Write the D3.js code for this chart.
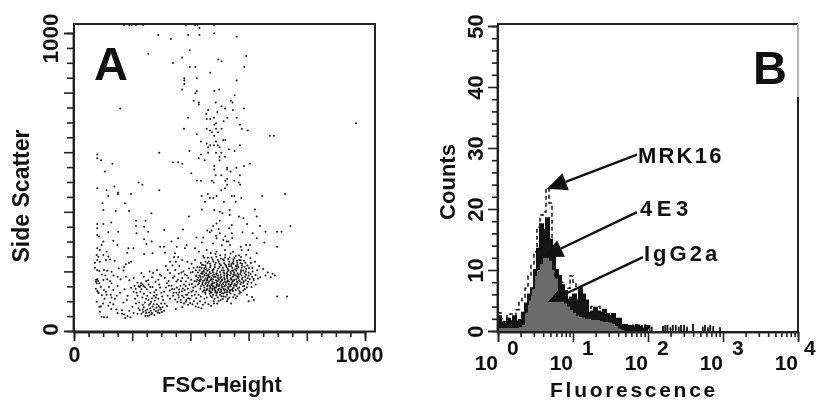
<!DOCTYPE html>
<html>
<head>
<meta charset="utf-8">
<script src="https://cdn.jsdelivr.net/npm/d3@7"></script>
<style>
  html, body { margin: 0; background: #fff; }
  svg { display: block; filter: blur(0.35px); }
  text { font-family: "Liberation Sans", Arial, sans-serif; font-weight: bold; fill: #111; }
</style>
</head>
<body>
<div id="chart"></div>
<script>
// panel A as [FSC-Height, Side Scatter]
const upperPoints = [
[172,1027],[190,1027],[198,1027],[213,1027],[238,1027],[385,1027],[416,1027],[424,1027],[431,1018],[481,1027],[482,999],[289,993],[333,980],[392,993],[431,993],[559,987],[255,930],[398,942],[372,918],[496,911],[507,905],[592,923],[340,899],[398,886],[417,886],[585,886],[468,867],[379,848],[379,841],[422,848],[559,841],[379,829],[372,810],[482,805],[499,810],[422,805],[417,798],[552,791],[411,773],[429,767],[429,760],[487,767],[539,773],[545,767],[159,747],[507,754],[519,747],[461,742],[546,742],[584,747],[493,735],[455,728],[481,716],[392,716],[527,716],[559,716],[456,711],[468,711],[488,697],[514,704],[482,692],[570,692],[456,679],[378,679],[467,673],[488,679],[507,679],[577,679],[597,673],[474,667],[495,667],[422,660],[482,655],[673,655],[687,655],[969,697],[520,641],[513,641],[436,636],[456,629],[488,636],[468,623],[461,617],[481,623],[494,623],[570,623],[500,617],[397,604],[532,610],[552,604],[461,598],[488,598],[506,598],[293,598],[80,592],[80,580],[93,573],[436,592],[519,585],[429,580],[500,585],[449,573],[500,573],[340,566],[358,566],[372,561],[132,561],[482,554],[605,561],[584,554],[526,548],[558,548],[482,542],[526,542],[538,535],[106,535],[487,523],[506,523],[403,529],[570,523],[422,504],[436,504],[474,504],[480,498],[526,510],[520,504],[551,504],[566,498],[571,491],[222,498],[235,491],[526,491],[519,479],[139,485],[80,479],[112,472],[293,472],[506,472],[151,465],[151,460],[196,460],[118,453],[439,453],[460,460],[490,453],[542,453],[551,453],[575,446],[647,453],[725,460],[467,446],[479,446]
];
const midUpperPoints = [
[98,429],[175,429],[450,434],[515,434],[556,434],[101,406],[144,403],[189,403],[266,395],[395,384],[439,408],[482,406],[501,400],[535,406],[510,395],[535,389],[567,384],[582,378],[622,408],[628,384],[80,359],[80,345],[101,359],[128,364],[213,370],[246,370],[213,352],[241,350],[501,370],[490,361],[478,352],[542,356],[595,359],[639,352],[744,352],[118,331],[152,333],[80,322],[86,317],[215,328],[255,333],[310,339],[375,341],[458,337],[473,337],[467,331],[501,328],[542,328],[579,331],[614,328],[658,333],[698,333],[713,333],[101,300],[241,308],[335,300],[358,311],[421,314],[444,314],[490,311],[513,305],[525,300],[628,311],[135,303],[267,300],[95,289],[149,289],[249,292],[296,283],[309,283],[387,289],[439,297],[478,294],[536,289],[530,300],[654,297],[605,289],[591,289],[573,283],[698,283],[80,278],[187,278],[204,278],[353,283],[381,278],[416,278],[456,272],[89,272],[112,266],[183,263],[78,255],[118,250],[241,258],[270,261],[312,263],[347,261],[429,266],[490,266],[519,272],[547,266],[576,272],[599,272],[628,261],[508,288],[544,312],[520,318],[497,342],[533,345],[488,320]
];
const leftPoints = [
[80,238],[72,229],[89,232],[84,249],[101,255],[110,238],[124,240],[80,205],[87,201],[103,205],[114,202],[129,199],[75,166],[80,174],[87,160],[101,171],[114,174],[124,168],[129,160],[80,134],[84,129],[103,138],[110,132],[126,122],[150,151],[78,98],[87,81],[89,65],[95,48],[114,46],[103,46],[129,112],[141,108],[124,96],[118,85],[135,90],[128,74],[150,60],[165,58],[147,118],[165,70],[172,55],[184,50],[194,46],[176,44],[190,68],[205,60],[201,81],[218,58],[226,70],[232,58],[213,92],[222,76],[238,64],[245,50],[259,52],[266,56],[253,50],[178,224],[172,215],[189,228],[170,203],[196,232],[178,182],[190,170],[205,178],[218,163],[222,150],[196,145],[174,140],[184,118],[150,182],[160,174],[92,148],[75,142],[96,120],[105,108],[92,82],[140,236],[154,210],[135,138],[120,148],[76,172],[83,168],[78,160],[84,128],[96,190],[108,186],[72,212],[136,186],[158,128],[170,96],[182,104],[146,72],[112,122],[100,92]
];
const lowerLeftPoints = [
[240,125],[228,132],[232,140],[218,118],[215,128],[235,112],[248,108],[252,118],[244,96],[258,88],[265,98],[270,82],[262,76],[252,72],[240,80],[246,68],[236,88],[275,72],[282,66],[290,70],[298,72],[288,62],[294,60],[302,64],[310,68],[296,78],[285,90],[278,102],[268,110],[275,118],[290,108],[300,92],[312,92],[320,84],[306,104],[262,128],[250,140],[270,148],[282,138],[296,146],[310,132],[322,118],[300,128],[284,122],[262,148],[255,170],[268,180],[280,165],[290,172],[300,185],[312,178],[325,168],[272,195],[285,205],[295,190],[260,200],[248,168],[240,182],[232,195],[226,148],[208,152],[205,132],[258,62],[268,60],[248,60],[236,72],[224,96],[210,108],[276,54],[264,68],[231,160],[236,156],[229,153],[239,150],[244,147],[212,142],[256,104],[262,92],[274,90],[283,78],[291,84],[304,80],[281,112],[316,146],[329,136],[303,116],[293,156],[276,130],[256,156]
];
const middlePoints = [
[335,152],[345,140],[352,128],[340,118],[330,108],[348,106],[360,112],[368,96],[378,92],[386,104],[392,88],[372,118],[362,130],[380,138],[394,128],[405,118],[398,108],[412,100],[424,92],[420,110],[366,152],[352,166],[340,178],[330,195],[348,205],[360,192],[372,178],[384,166],[396,156],[410,146],[420,132],[428,122],[388,186],[376,200],[362,218],[350,232],[338,220],[396,210],[408,198],[420,186],[414,168],[426,156],[434,142],[442,132],[436,116],[448,108],[428,80],[372,80],[350,74],[392,110],[404,132],[384,150],[368,168],[322,205],[330,232],[316,218],[344,248],[358,248],[372,238],[390,232],[404,226],[416,238],[424,214],[432,204],[440,222],[452,232],[448,246],
[353,146],[361,139],[374,143],[389,122],[377,112],[367,104],[355,97],[384,98],[399,94],[415,122],[409,136],[391,142],[378,156],[403,172],[393,178],[381,190],[369,196],[357,172],[345,184],[405,158],[417,150],[431,170],[411,212],[401,196],[419,204],[385,122],[371,133],[343,128],[337,141],[326,152],[319,160],[358,122],[433,100],[443,88],[418,82],[407,90],[451,96],[462,90],[471,84],[438,76],[481,92]
];
const cloudPoints = [
[470,262],[486,258],[502,254],[520,256],[538,260],[556,252],[574,248],[592,256],[606,244],[584,236],[568,238],[548,240],[530,242],[512,240],[494,238],[476,240],[460,246],[444,252],
[436,228],[452,220],[468,226],[484,222],[500,226],[516,228],[532,224],[548,226],[562,222],[578,226],[596,220],[608,228],[622,232],[636,218],[592,208],[576,212],[560,210],[544,212],[528,208],[512,212],[496,210],[480,208],[464,206],[448,210],[432,214],
[426,196],[440,198],[454,194],[466,198],[478,196],[490,194],[502,198],[514,196],[526,194],[538,198],[550,196],[562,194],[574,198],[586,194],[600,196],[614,200],[630,204],[650,208],[666,196],[682,192],
[420,184],[432,186],[444,182],[456,186],[466,182],[476,186],[486,182],[496,186],[506,182],[516,186],[526,182],[536,186],[546,182],[556,186],[566,182],[576,186],[588,182],[600,186],[612,182],[624,188],[640,180],[658,186],[676,180],[690,186],
[424,172],[436,174],[448,170],[458,174],[468,170],[478,174],[488,170],[498,174],[508,170],[518,174],[528,170],[538,174],[548,170],[558,174],[568,170],[578,174],[590,170],[604,174],[618,170],[632,176],
[430,160],[442,162],[452,158],[462,162],[472,158],[482,162],[492,158],[502,162],[512,158],[522,162],[532,158],[542,162],[552,158],[562,162],[572,158],[582,162],[596,158],[610,162],[624,156],
[436,150],[448,146],[458,150],[468,146],[478,150],[488,146],[498,150],[508,146],[518,150],[528,146],[538,150],[548,146],[558,150],[568,146],[580,150],[594,146],[610,148],
[446,136],[456,138],[466,134],[476,138],[486,134],[496,138],[506,134],[516,138],[526,134],[536,138],[546,134],[556,138],[568,134],[582,136],
[452,124],[466,126],[478,122],[490,126],[502,122],[514,126],[526,122],[538,126],[552,122],[568,126],[456,112],[474,114],[494,112],[514,116],[534,112],[556,110],[480,100],[504,104],[526,100],[540,92],[594,122],[612,114],[618,104],[698,116],[732,116],[492,92],[600,100],
[462,190],[472,178],[482,190],[494,178],[504,190],[516,178],[528,190],[540,178],[552,190],[564,178],[452,176],[464,166],[476,166],[490,164],[504,166],[518,166],[532,166],[546,166],[560,166],[460,154],[474,154],[490,154],[506,154],[522,154],[538,154],[554,154],[466,142],[482,142],[498,142],[514,142],[530,142],[546,142],[470,130],[486,130],[502,130],[518,130],[534,130],
[520,222],[534,232],[548,234],[560,236],[572,228],[586,216],[574,204],[590,200],[544,202],[558,202],[528,200],[508,204],[492,202],[476,202],[458,202],[442,192],[446,204],[524,214],[540,218],[556,218],[500,216],[484,214],[468,214],[452,214]
];
const cloudCorePoints = [
[437,193],[449,187],[459,179],[443,169],[453,163],[467,151],[475,143],[485,137],[493,131],[509,127],[521,139],[533,149],[541,157],[551,171],[561,183],[571,191],[581,203],[565,215],[553,207],[539,193],[527,177],[513,161],[499,155],[483,147],[471,173],[461,187],[447,199],[435,181],[441,157],[457,141],[473,129],[489,119],[507,117],[525,129],[543,139],[559,155],[569,167],[579,179],[591,189],[577,219],[561,229],[541,225],[523,219],[505,221],[487,229],[469,219],[455,207],[439,211],[517,193],[503,179],[489,191],[477,159],[465,135],[451,129],[531,205],[547,189],[563,143],[575,163],[585,151],[597,177],[607,191],[617,175],[515,237],[497,233],[479,233],[463,233],[535,247],[551,245],[567,253],[527,165],[511,149],[495,169],[481,181],[469,193],[549,153],[537,135],[521,115],[505,139],[491,151],[457,169],[445,153],[433,167],[427,179],[421,166],[445,221],[459,227],[473,247],[489,249],[505,243],[519,247],[533,217],[545,229],[559,217],[573,237],[589,229],[601,211],[613,211],[599,165],[587,141],[573,129],[561,117],[547,113],[529,107],[511,107],[497,101],[483,108],[469,118],[541,172],[525,186],[509,173],[493,185],[477,205],[463,181],[449,137],[515,203],[531,157],[547,203],[565,189],[583,167]
];

// panel B
const fluorExp = [0,.04,.08,.12,.16,.2,.24,.28,.32,.36,.4,.44,.48,.52,.56,.6,.64,.68,.72,.76,.8,.84,.88,.92,.96,1,1.04,1.08,1.12,1.16,1.2,1.24,1.28,1.32,1.36,1.4,1.44,1.48,1.52,1.56,1.6,1.64,1.68,1.72,1.76,1.8,1.84,1.88,1.92,1.96,2];
const igg2a = [.5,.5,.5,.5,.5,.5,.5,.6,1,3,5,7,9,10,11,12,12,11.5,10,8.6,6,5,4.5,4,3.5,3,2.5,2.3,2.2,2,2,1.8,1.8,1.8,1.6,1.5,1.5,1.4,1.2,.8,.4,.2,0,0,0,0,0,0,0,0,0];
const e43 = [2.4,1.4,1.2,2,1.6,2.4,1.6,1.8,3,4.5,6,7,10,13.5,17.5,16.5,18.5,15,12.5,10,9,7.5,6.5,5,5.5,6,5,7,6,5,3,3.2,3.8,3.2,3,3.5,2.8,2.4,2.8,2,2,1,1,.6,.8,.5,.9,.6,.4,.8,.3];
const mrk16 = [3,2,1.5,2.5,2.8,2,3.5,5,5.5,7,9,11,13,17,19,19.5,23.4,21,14,9,9,8,7,7,9,8,7,6,5,4,3.5,4,2.5,4,3,2,2.5,1.5,1.5,1,1,.8,.8,.6,1,.6,1,.7,.5,1,.4];
const tailExp = [1.74,1.78,1.83,1.87,1.92,1.96,2.02,2.05,2.2,2.23,2.26,2.3,2.33,2.37,2.41,2.44,2.48,2.52,2.6,2.73,2.76,2.8,2.83,2.87,2.96];
const tailCount = [1,.7,1,.8,1,.6,1,.7,.8,1,1,.6,1,1,.7,1,1,.7,1.2,.7,1,.6,1,.8,.6];

const labelsB = ["MRK16", "4E3", "IgG2a"];
const labelSpacing = [2.2, 4.5, 3];
const arrowsFrom = [[1.853, 28.9], [1.853, 19.5], [1.933, 12.1]];
const arrowsTo = [[.653, 23.3], [.6, 12.1], [.667, 4.75]];

const scatterTicks = [0, 200, 400, 600, 800, 1000];
const countTicks = [0, 10, 20, 30, 40, 50];
const decades = [0, 1, 2, 3, 4];

const width = 817;
const height = 402;
const svg = d3.select("#chart").append("svg").attr("width", width).attr("height", height);

// ---- A ----
const xA = d3.scaleLinear().domain([0, 1000]).range([74, 365]);
const yA = d3.scaleLinear().domain([0, 1000]).range([331, 33]);

const points = [...upperPoints, ...midUpperPoints, ...leftPoints, ...lowerLeftPoints, ...middlePoints, ...cloudPoints, ...cloudCorePoints];
svg.append("g").selectAll("circle").data(points).enter().append("circle")
  .attr("cx", (d) => xA(d[0]))
  .attr("cy", (d) => yA(d[1]))
  .attr("r", 1)
  .attr("fill", "#161616");

svg.append("rect").attr("x", 74).attr("y", 24).attr("width", 301).attr("height", 307.5)
  .attr("fill", "none").attr("stroke", "#222").attr("stroke-width", 2);

const minorA = d3.range(0, 1001, 50).filter((d) => d % 200 !== 0);

const axisXA = svg.append("g").attr("transform", "translate(0,332)")
  .call(d3.axisBottom(xA).tickValues(scatterTicks).tickSize(9).tickFormat((d) => (d === 0 || d === 1000 ? d : "")));
axisXA.append("g").call(d3.axisBottom(xA).tickValues(minorA).tickSize(5).tickFormat(""));
axisXA.selectAll("text").style("font-size", "21.5px")
  .attr("x", (d) => (d === 1000 ? -6 : 0))
  .attr("y", 15).attr("dy", "0.71em");

const axisYA = svg.append("g").attr("transform", "translate(73,0)")
  .call(d3.axisLeft(yA).tickValues(scatterTicks).tickSize(9).tickFormat((d) => (d === 0 || d === 1000 ? d : "")));
axisYA.append("g").call(d3.axisLeft(yA).tickValues(minorA).tickSize(6).tickFormat(""));
axisYA.selectAll("text")
  .style("font-size", "22.5px")
  .attr("transform", "rotate(-90)")
  .attr("text-anchor", "middle")
  .attr("x", (d) => (d === 1000 ? -5 : 2))
  .attr("y", -15)
  .attr("dy", 0);

svg.append("text").attr("x", 222).attr("y", 392).attr("text-anchor", "middle")
  .style("font-size", "22px").text("FSC-Height");
svg.append("text").attr("transform", "translate(29,196) rotate(-90)").attr("text-anchor", "middle")
  .style("font-size", "23px").text("Side Scatter");
svg.append("text").attr("x", 94).attr("y", 80).style("font-size", "47px").text("A");

// ---- B ----
const xB = d3.scaleLog().domain([1, 10000]).range([498, 798]);
const yB = d3.scaleLinear().domain([0, 50]).range([331, 26]);
const fx = (e) => xB(Math.pow(10, e));

const stepArea = d3.area().x((d) => fx(d[0])).y0(yB(0)).y1((d) => yB(d[1])).curve(d3.curveStepAfter);
const stepLine = d3.line().x((d) => fx(d[0])).y((d) => yB(d[1])).curve(d3.curveStepAfter);

// black under the grey, so only the rim of 4E3 shows
svg.append("path").attr("d", stepArea(d3.zip(fluorExp, e43))).attr("fill", "#151515");
svg.append("path").attr("d", stepArea(d3.zip(fluorExp, igg2a))).attr("fill", "#6b6b6b");
svg.append("path").attr("d", stepLine(d3.zip(fluorExp, e43)))
  .attr("fill", "none").attr("stroke", "#111").attr("stroke-width", 2);
svg.append("path").attr("d", stepLine(d3.zip(fluorExp, mrk16)))
  .attr("fill", "none").attr("stroke", "#111").attr("stroke-width", 1.5).attr("stroke-dasharray", "4,3");

svg.append("g").selectAll("line").data(d3.zip(tailExp, tailCount)).enter().append("line")
  .attr("x1", (d) => fx(d[0])).attr("x2", (d) => fx(d[0]))
  .attr("y1", yB(0)).attr("y2", (d) => yB(d[1]))
  .attr("stroke", "#111").attr("stroke-width", 1.8);

// frame, the upper part of the right side is faded in the scan
const frameB = svg.append("g").attr("fill", "none").attr("stroke-width", 2);
frameB.append("path").attr("d", "M798,97V332H498V24H798").attr("stroke", "#222");
frameB.append("path").attr("d", "M798,24V97").attr("stroke", "#b5b5b5");

const minorCounts = d3.range(0, 51, 2).filter((d) => d % 10 !== 0);
const axisYB = svg.append("g").attr("transform", "translate(497,0)")
  .call(d3.axisLeft(yB).tickValues(countTicks).tickSize(9));
axisYB.append("g").call(d3.axisLeft(yB).tickValues(minorCounts).tickSize(5).tickFormat(""));
axisYB.selectAll("text")
  .style("font-size", "22px")
  .attr("transform", "rotate(-90)")
  .attr("text-anchor", "middle")
  .attr("x", 0)
  .attr("y", -14)
  .attr("dy", 0);

const minorFluor = [];
decades.slice(0, 4).forEach((e) => {
  d3.range(2, 10).forEach((m) => minorFluor.push(m * Math.pow(10, e)));
});
const axisXB = svg.append("g").attr("transform", "translate(0,332)")
  .call(d3.axisBottom(xB).tickValues(decades.map((e) => Math.pow(10, e))).tickSize(10).tickFormat(""));
axisXB.append("g").call(d3.axisBottom(xB).tickValues(minorFluor).tickSize(5).tickFormat(""));

svg.selectAll("g.tick line").attr("stroke", "#222").attr("stroke-width", 1.6);
svg.selectAll("path.domain").attr("stroke", "#222").attr("stroke-width", 1.5);

// 10 with the exponent set high and to the right
decades.forEach((e) => {
  const px = xB(Math.pow(10, e));
  svg.append("text").attr("x", px).attr("y", 370).attr("text-anchor", "end")
    .style("font-size", "21px").text("10");
  svg.append("text").attr("x", e === 4 ? 804 : px + 9).attr("y", 355)
    .style("font-size", "21px").text(e);
});

svg.append("text").attr("x", 634).attr("y", 397).attr("text-anchor", "middle")
  .style("font-size", "21px").style("letter-spacing", "2.7px").text("Fluorescence");
svg.append("text").attr("transform", "translate(455,182) rotate(-90)").attr("text-anchor", "middle")
  .style("font-size", "22px").text("Counts");
svg.append("text").attr("x", 753).attr("y", 84).style("font-size", "47px").text("B");

// arrows
const labelX = [638, 640, 644];
const labelY = [163, 216, 261];
labelsB.forEach((name, i) => {
  svg.append("text").attr("x", labelX[i]).attr("y", labelY[i])
    .style("font-size", "22px").style("letter-spacing", `${labelSpacing[i]}px`).text(name);
  const [x0, y0] = [fx(arrowsFrom[i][0]), yB(arrowsFrom[i][1])];
  const [x1, y1] = [fx(arrowsTo[i][0]), yB(arrowsTo[i][1])];
  const a = Math.atan2(y0 - y1, x0 - x1);
  const headLen = 20;
  const headWide = 9;
  const bx = x1 + headLen * Math.cos(a);
  const by = y1 + headLen * Math.sin(a);
  svg.append("line").attr("x1", x0).attr("y1", y0).attr("x2", bx).attr("y2", by)
    .attr("stroke", "#111").attr("stroke-width", 2.4);
  svg.append("path")
    .attr("d", `M${x1},${y1}L${bx - headWide * Math.sin(a)},${by + headWide * Math.cos(a)}L${bx + headWide * Math.sin(a)},${by - headWide * Math.cos(a)}Z`)
    .attr("fill", "#111");
});
</script>
</body>
</html>
